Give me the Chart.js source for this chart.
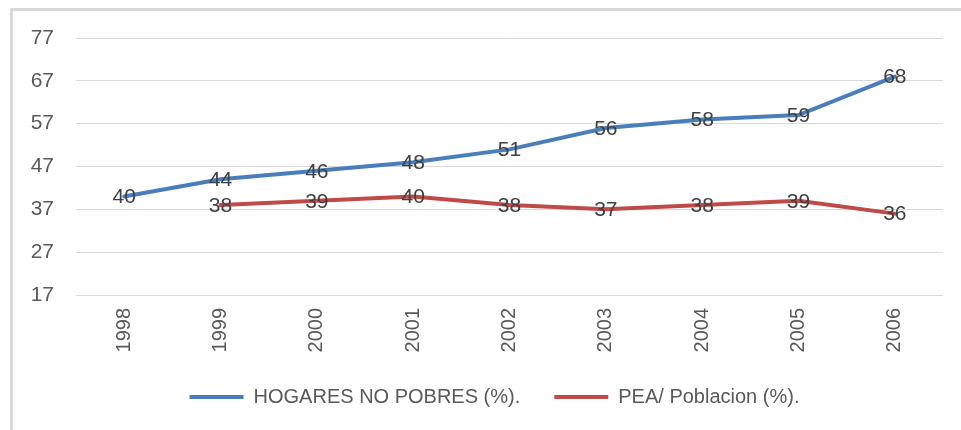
<!DOCTYPE html>
<html>
<head>
<meta charset="utf-8">
<script src="https://cdn.jsdelivr.net/npm/chart.js@4/dist/chart.umd.min.js"></script>
<style>
  html, body { margin: 0; padding: 0; background: #ffffff; }
  #wrap { position: relative; width: 961px; height: 430px; overflow: hidden; }
  #frame { position: absolute; left: 10px; top: 8px; width: 1000px; height: 500px;
           border-left: 3px solid #d9d9d9; border-top: 3px solid #d9d9d9; box-sizing: border-box; }
  #c { position: absolute; left: 0; top: 0; }
</style>
</head>
<body>
<div id="wrap">
  <div id="frame"></div>
  <canvas id="c" width="961" height="430"></canvas>
</div>
<script>
const years = ['1998', '1999', '2000', '2001', '2002', '2003', '2004', '2005', '2006'];
const hogaresNoPobres = [40, 44, 46, 48, 51, 56, 58, 59, 68];
const peaPoblacion = [null, 38, 39, 40, 38, 37, 38, 39, 36];
const yTicks = [17, 27, 37, 47, 57, 67, 77];
const seriesNames = ['HOGARES NO POBRES (%).', 'PEA/ Poblacion (%).'];

const dataLabels = {
  id: 'dataLabels',
  afterDatasetsDraw(chart) {
    const ctx = chart.ctx;
    ctx.save();
    ctx.font = '21px "Liberation Sans", Arial, sans-serif';
    ctx.fillStyle = '#404040';
    ctx.textAlign = 'center';
    ctx.textBaseline = 'middle';
    chart.data.datasets.forEach((ds, i) => {
      const meta = chart.getDatasetMeta(i);
      meta.data.forEach((pt, j) => {
        const v = ds.data[j];
        if (v === null || v === undefined) return;
        ctx.fillText(String(v), pt.x, pt.y + 1);
      });
    });
    ctx.restore();
  }
};

new Chart(document.getElementById('c'), {
  type: 'line',
  data: {
    labels: years,
    datasets: [
      {
        label: seriesNames[0],
        data: hogaresNoPobres,
        borderColor: '#4a7ebb',
        backgroundColor: '#4a7ebb',
        borderWidth: 4,
        pointRadius: 0,
        tension: 0,
        borderCapStyle: 'round'
      },
      {
        label: seriesNames[1],
        data: peaPoblacion,
        borderColor: '#be4b48',
        backgroundColor: '#be4b48',
        borderWidth: 4,
        pointRadius: 0,
        tension: 0,
        borderCapStyle: 'round'
      }
    ]
  },
  options: {
    responsive: false,
    animation: false,
    layout: { padding: { left: 28, right: 0, top: 38, bottom: 13 } },
    plugins: {
      tooltip: { enabled: false },
      legend: {
        position: 'bottom',
        labels: {
          usePointStyle: true,
          pointStyle: 'line',
          pointStyleWidth: 54,
          padding: 34,
          color: '#595959',
          font: { family: '"Liberation Sans", Arial, sans-serif', size: 20 }
        }
      }
    },
    scales: {
      x: {
        offset: true,
        grid: { display: false, drawTicks: false },
        border: { display: false },
        ticks: {
          minRotation: 90,
          maxRotation: 90,
          padding: 13,
          color: '#595959',
          font: { family: '"Liberation Sans", Arial, sans-serif', size: 20 }
        },
        afterFit(scale) { scale.height = 58; }
      },
      y: {
        min: 17,
        max: 77,
        afterBuildTicks(scale) { scale.ticks = yTicks.map(v => ({ value: v })); },
        grid: { color: '#d9d9d9', lineWidth: 1, drawTicks: false },
        border: { display: false },
        ticks: {
          padding: 22,
          color: '#595959',
          font: { family: '"Liberation Sans", Arial, sans-serif', size: 21 }
        },
        afterFit(scale) { scale.width = 48; }
      },
      yRight: {
        position: 'right',
        display: true,
        grid: { display: false, drawTicks: false },
        border: { display: false },
        ticks: { display: false },
        afterFit(scale) { scale.width = 18; }
      }
    }
  },
  plugins: [dataLabels]
});
</script>
</body>
</html>
